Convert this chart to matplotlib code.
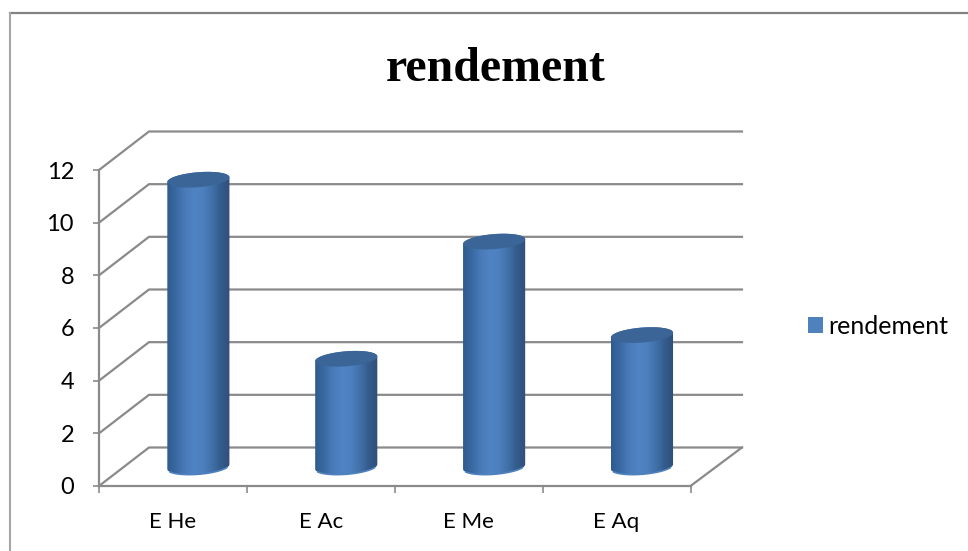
import numpy as np
import matplotlib
matplotlib.use("Agg")
from matplotlib import pyplot as plt
from matplotlib.colors import LinearSegmentedColormap
from matplotlib.lines import Line2D
from matplotlib.patches import Patch, Polygon

categories = ["E He", "E Ac", "E Me", "E Aq"]
rendement = [10.9, 4.1, 8.55, 5.0]
y_ticks = [0, 2, 4, 6, 8, 10, 12]

W, H = 968, 551
GREY = "#8a8a8a"

# oblique depth of the 3D box and cylinder shape, in data units
depth_x = 0.338
depth_y = 1.462
rad_x = 0.21
rad_y = 0.285
tilt = 0.09

fig = plt.figure(figsize=(W / 100, H / 100), dpi=100, facecolor="white")
ax = fig.add_axes([99 / W, (H - 486) / H, 591.5 / W, 316 / H])

# outer frame of the chart, only its top and left edges show
fig.add_artist(Line2D([9.5 / W, 1.01], [1 - 13 / H, 1 - 13 / H], transform=fig.transFigure,
                      color="#828282", lw=1.6, solid_capstyle="projecting"))
fig.add_artist(Line2D([9.5 / W, 9.5 / W], [1 - 13 / H, -0.01], transform=fig.transFigure,
                      color="#a6a6a6", lw=1.5))

# back wall, left wall and floor edge
for v in y_ticks:
    ax.plot([0, depth_x, 4 + depth_x + 0.01], [v, v + depth_y, v + depth_y],
            color=GREY, lw=1.6, clip_on=False, zorder=1, solid_joinstyle="miter")
ax.plot([4, 4 + depth_x + 0.01], [0, depth_y], color=GREY, lw=1.6, clip_on=False, zorder=1)

cmap = LinearSegmentedColormap.from_list(
    "cyl", ["#2f5a8e", "#3a6aa3", "#4a7bb9", "#5083c3", "#4d80bf", "#4171a9", "#345c8c", "#2f4f78"])


def ellipse(cx, cy, t):
    return cx + rad_x * np.cos(t), cy + rad_y * np.sin(t) + tilt * np.cos(t)


for i, v in enumerate(rendement):
    cx = i + 0.5 + depth_x / 2 + 0.003
    base = depth_y / 2
    # body outline: lower half of the base, then the upper half of the top
    x0, y0 = ellipse(cx, base, np.linspace(np.pi, 2 * np.pi, 60))
    x1, y1 = ellipse(cx, v + base, np.linspace(0, np.pi, 60))
    body = Polygon(np.column_stack([np.r_[x0, x1], np.r_[y0, y1]]), closed=True,
                   facecolor="none", edgecolor="none", transform=ax.transData)
    ax.add_patch(body)
    im = ax.imshow(np.linspace(0, 1, 128)[None, :], cmap=cmap, aspect="auto", zorder=3,
                   extent=(cx - rad_x, cx + rad_x, -1, 13), interpolation="bilinear")
    im.set_clip_path(body)
    # lighter rim along the base
    ax.plot(x0[8:52], y0[8:52], color="#4f81bd", lw=1.2, zorder=4, clip_on=False)
    # top cap
    xt, yt = ellipse(cx, v + base, np.linspace(0, 2 * np.pi, 120))
    ax.fill(xt, yt, color="#3b6597", lw=0, zorder=5)

ax.set_xlim(0, 4)
ax.set_ylim(0, 12)
ax.patch.set_visible(False)
for side in ("top", "right"):
    ax.spines[side].set_visible(False)
for side in ("left", "bottom"):
    ax.spines[side].set_color(GREY)
    ax.spines[side].set_linewidth(1.6)

ax.set_yticks(y_ticks)
ax.set_xticks(range(5))
ax.set_xticklabels([])
ax.set_xticks(np.arange(4) + 0.5, categories, minor=True)
ax.tick_params(axis="y", length=4, width=1.2, color=GREY, pad=14, labelsize=17, labelfontfamily="Lato", labelcolor="black")
ax.tick_params(axis="x", which="major", length=5, width=1.2, color=GREY)
ax.tick_params(axis="x", which="minor", length=0, pad=19, labelsize=16, labelfontfamily="Lato", labelcolor="black")

fig.text(496 / W, 1 - 81 / H, "rendement", family="Liberation Serif", weight="bold",
         fontsize=34.5, ha="center", va="baseline", color="black")

fig.legend(handles=[Patch(facecolor="#4f81bd", edgecolor="none", label="rendement")],
           loc="center left", bbox_to_anchor=(805 / W, 1 - 326 / H), frameon=False,
           prop={"family": "Lato", "size": 18}, handlelength=0.6, handleheight=0.6,
           handletextpad=0.25, borderpad=0.1, borderaxespad=0)

fig.savefig("out.png", dpi=100)
